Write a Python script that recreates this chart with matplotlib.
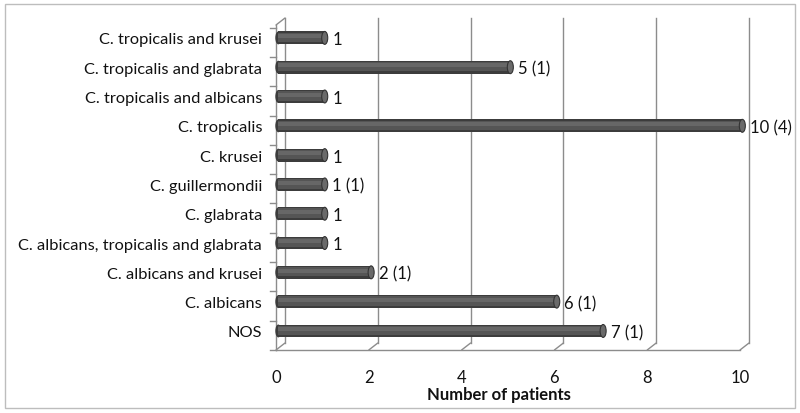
import matplotlib
matplotlib.use('Agg')
import matplotlib.pyplot as plt
from matplotlib.patches import Ellipse, Rectangle
from matplotlib.transforms import ScaledTranslation

# data (bottom to top)
categories = ['NOS', 'C. albicans', 'C. albicans and krusei',
              'C. albicans, tropicalis and glabrata', 'C. glabrata',
              'C. guillermondii', 'C. krusei', 'C. tropicalis',
              'C. tropicalis and albicans', 'C. tropicalis and glabrata',
              'C. tropicalis and krusei']
patients = [7, 6, 2, 1, 1, 1, 1, 10, 1, 5, 1]
bar_labels = ['7 (1)', '6 (1)', '2 (1)', '1', '1', '1 (1)', '1', '10 (4)', '1', '5 (1)', '1']
xticks = [0, 2, 4, 6, 8, 10]

plt.rcParams['font.family'] = ['Lato', 'DejaVu Sans']

fig = plt.figure(figsize=(8, 4.14), dpi=100)
fig.patches.append(Rectangle((5 / 800, 5 / 414), 790 / 800, 404 / 414, transform=fig.transFigure,
                             fill=False, edgecolor='#bdbdbd', lw=1))

ax = fig.add_axes([276 / 800, 1 - 351 / 414, 464 / 800, 325 / 414])
ax.set_xlim(0, 10)
ax.set_ylim(-0.65, 10.44)
for s in ax.spines.values():
    s.set_visible(False)

grid_c = '#8c8c8c'
back = ax.transData + ScaledTranslation(9 / 100, 7 / 100, fig.dpi_scale_trans)
y0, y1 = -0.65, 10.44
diag = dict(arrowstyle='-', color=grid_c, lw=1, shrinkA=0, shrinkB=0)
for t in xticks:
    ax.plot([t, t], [y0, y1], color=grid_c, lw=1, transform=back, clip_on=False)
    # depth diagonals at the floor
    ax.annotate('', xy=(t, y0), xytext=(9 * 0.72, 7 * 0.72), textcoords='offset points',
                arrowprops=diag, annotation_clip=False)
# floor front edge and left wall
ax.plot([0, 10], [y0, y0], color=grid_c, lw=1, clip_on=False)
ax.plot([0, 0], [y0, y1], color=grid_c, lw=1, clip_on=False)
ax.annotate('', xy=(0, y1), xytext=(9 * 0.72, 7 * 0.72), textcoords='offset points',
            arrowprops=diag, annotation_clip=False)
# category tick marks on the left wall
for k in range(len(categories) + 1):
    ax.plot([-0.12, 0], [k - 0.65, k - 0.65], color=grid_c, lw=1, clip_on=False)

# cylinder-like bars
ypos = list(range(len(categories)))
h = 0.44
ax.barh(ypos, patients, height=h, left=0.05, color='#3c3c3c', zorder=3, clip_on=False)
ax.barh([y + 0.02 for y in ypos], patients, height=0.32, left=0.05, color='#555555',
        zorder=3, clip_on=False)
ax.barh([y + 0.06 for y in ypos], patients, height=0.14, left=0.05, color='#676767',
        zorder=3, clip_on=False)
for y, v in zip(ypos, patients):
    ax.add_patch(Ellipse((v + 0.05, y), 0.13, h, facecolor='#6a6a6a', edgecolor='#333333',
                         lw=0.8, zorder=4, clip_on=False))
    ax.add_patch(Ellipse((0.05, y), 0.13, h, facecolor='#3c3c3c', edgecolor='none',
                         zorder=2.9, clip_on=False))

for y, v, lab in zip(ypos, patients, bar_labels):
    ax.annotate(lab, (v + 0.12, y), xytext=(3, -1), textcoords='offset points',
                va='center', ha='left', fontsize=12, color='#111111', annotation_clip=False)

ax.set_yticks(ypos)
ax.set_yticklabels(categories, fontsize=11.8, color='#111111')
ax.tick_params(axis='y', length=0, pad=10)
ax.set_xticks(xticks)
ax.set_xticklabels([str(t) for t in xticks], fontsize=12, color='#111111')
ax.tick_params(axis='x', length=0, pad=14)
ax.set_xlabel('Number of patients', fontsize=12, fontweight='bold', color='#111111')
ax.xaxis.set_label_coords(0.48, -36 / 325, transform=ax.transAxes)
ax.xaxis.label.set_va('top')

fig.savefig('out.png', dpi=100)
